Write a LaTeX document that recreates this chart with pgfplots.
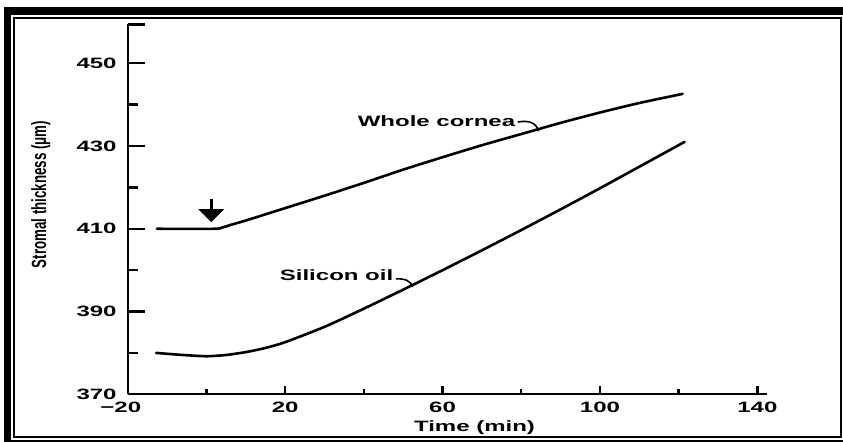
\documentclass[border=0pt]{standalone}
\usepackage{pgfplots}
\pgfplotsset{compat=1.18}
\usepackage{fontspec}
\setmainfont{Liberation Sans}
\newfontfamily\widefont{Liberation Sans}[FakeStretch=1.6]
\newfontfamily\narrowfont{Liberation Sans}[FakeStretch=0.65]
\usetikzlibrary{arrows.meta}

\newcommand{\lab}{\widefont\bfseries\fontsize{15bp}{18bp}\selectfont}

% Stromal thickness against time
\pgfplotstableread{
t    d
-12.6 410.0
2.0  410.0
4    410.3
6    410.9
10   412.0
20   415.0
30   418.0
40   421.1
50   424.3
60   427.3
70   430.2
80   432.9
90   435.6
100  438.1
110  440.4
121  442.6
}\wholecornea

\pgfplotstableread{
t    d
-12.8 380.0
-6   379.5
0    379.2
5    379.5
10   380.2
15   381.2
20   382.6
30   386.3
40   390.7
50   395.3
60   400.0
70   404.8
80   409.7
90   414.7
100  419.8
110  425.0
121.5 431.0
}\siliconoil

\begin{document}
\begin{tikzpicture}[x=1bp,y=1bp]
\useasboundingbox (0,0) rectangle (843,442);
% double page frame
\draw[line width=7.5bp] (7.5,-2) rectangle (848,431);
\draw[line width=2.2bp] (14.3,5.3) rectangle (841,424.2);

\begin{axis}[
  at={(127.8bp,47.7bp)}, anchor=south west,
  scale only axis, width=639.4bp, height=369.9bp,
  xmin=-20, xmax=142.5, ymin=370, ymax=459.4,
  axis lines=left, axis line style={-},
  x axis line style={line width=2bp},
  y axis line style={line width=2.6bp},
  tick align=inside,
  xtick={-20,20,60,100,140},
  xticklabels={\llap{−}20,20,60,100,140},
  minor x tick num=1,
  ytick={370,390,410,430,450},
  yticklabels={370,390,410,430,450},
  minor y tick num=1,
  extra y ticks={459.4},
  extra y tick labels={},
  extra y tick style={/pgfplots/major tick length=10bp, line width=2.4bp},
  x tick style={line width=2.4bp, black, /pgfplots/major tick length=8bp, /pgfplots/minor tick length=5bp},
  y tick style={line width=2.4bp, black, /pgfplots/major tick length=17bp, /pgfplots/minor tick length=10bp},
  minor x tick style={line width=2.4bp, black},
  minor y tick style={line width=2.4bp, black},
  xticklabel style={font=\lab, inner sep=0pt, anchor=north, yshift=-8bp},
  yticklabel style={font=\lab, inner sep=0pt, anchor=east, xshift=-11bp},
  clip=false,
]
\addplot[line width=2.6bp, smooth, tension=0.4, line join=round, line cap=round] table[x=t, y=d] {\wholecornea};
\addplot[line width=2.6bp, smooth, tension=0.4, line join=round, line cap=round] table[x=t, y=d] {\siliconoil};

% curve labels with their leaders
\node[anchor=west, inner sep=0pt, font=\lab] at (axis cs:38.4,436.0) {Whole cornea};
\draw[line width=1.6bp] (axis cs:79.1,435.8) .. controls (axis cs:82,436.3) and (axis cs:83.8,435.6) .. (axis cs:84.4,433.6);
\node[anchor=west, inner sep=0pt, font=\lab] at (axis cs:18.6,398.8) {Silicon oil};
\draw[line width=1.6bp] (axis cs:48.1,397.9) .. controls (axis cs:50.5,398.0) and (axis cs:52.0,397.4) .. (axis cs:52.4,395.9);

% time of the change
\draw[line width=3.2bp, -{Triangle[width=25bp,length=13bp]}] (axis cs:1.2,417.1) -- (axis cs:1.2,411.6);

% axis titles
\node[anchor=base, inner sep=0pt, font=\lab] at ([yshift=-37bp]rel axis cs:0.5422,0) {Time (min)};
\node[rotate=90, anchor=center, inner sep=0pt, font=\narrowfont\bfseries\fontsize{20.5bp}{22bp}\selectfont] at ([xshift=-87bp]rel axis cs:0,0.54) {Stromal thickness (μm)};
\end{axis}
\end{tikzpicture}
\end{document}
